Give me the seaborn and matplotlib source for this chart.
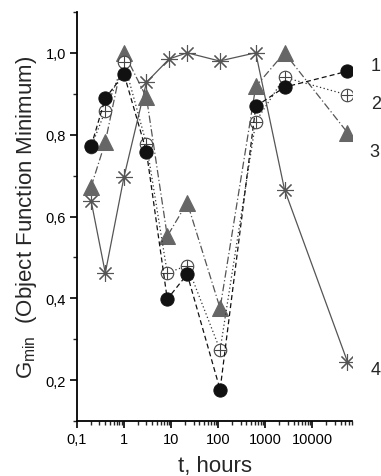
import matplotlib
matplotlib.use("Agg")
import matplotlib.pyplot as plt
import matplotlib.ticker as mticker
import seaborn as sns
import numpy as np
import pandas as pd

# data
t_hours = [0.2, 0.4, 1, 3, 8.3, 22, 110, 630, 2570, 56000]
s1 = [0.772, 0.889, 0.948, 0.758, 0.398, 0.459, 0.177, 0.869, 0.916, 0.955]
s2 = [0.770, 0.858, 0.977, 0.777, 0.462, 0.480, 0.274, 0.832, 0.940, 0.897]
s3 = [0.673, 0.782, 1.000, 0.891, 0.552, 0.634, 0.376, 0.918, 1.000, 0.805]
t4 = [0.2, 0.4, 1, 3, 9.1, 22, 107, 630, 2570, 56000]
s4 = [0.638, 0.462, 0.697, 0.928, 0.985, 1.000, 0.980, 1.000, 0.666, 0.245]
series_labels = ["1", "2", "3", "4"]
x_ticks = [0.1, 1, 10, 100, 1000, 10000]
x_ticklabels = ["0,1", "1", "10", "100", "1000", "10000"]
y_ticks = [0.2, 0.4, 0.6, 0.8, 1.0]
y_ticklabels = ["0,2", "0,4", "0,6", "0,8", "1,0"]

sns.set_theme(style="ticks")
plt.rcParams["font.family"] = ["Liberation Sans", "DejaVu Sans"]
plt.rcParams["mathtext.default"] = "regular"

fig = plt.figure(figsize=(3.81, 4.77), dpi=100)
ax = fig.add_axes([0.202, 0.115, 0.722, 0.858])

df1 = pd.DataFrame({"t": t_hours, "v": s1})
df2 = pd.DataFrame({"t": t_hours, "v": s2})
df3 = pd.DataFrame({"t": t_hours, "v": s3})
df4 = pd.DataFrame({"t": t4, "v": s4})

sns.lineplot(data=df4, x="t", y="v", ax=ax, color="#555555", lw=0.9,
             marker=(8, 2, 0), markersize=12, markeredgewidth=0.8,
             markeredgecolor="#555555", zorder=2)
sns.lineplot(data=df3, x="t", y="v", ax=ax, color="#555555", lw=0.9,
             linestyle=(0, (6, 2, 1, 2)), marker="^", markersize=12,
             markerfacecolor="#666666", markeredgecolor="#666666", zorder=3)
sns.lineplot(data=df2, x="t", y="v", ax=ax, color="#333333", lw=0.9,
             linestyle=(0, (1, 2)), marker="o", markersize=9,
             markerfacecolor="white", markeredgecolor="#444444",
             markeredgewidth=0.8, zorder=4)
sns.scatterplot(data=df2, x="t", y="v", ax=ax, marker="+", s=80,
                color="#444444", linewidth=0.8, zorder=5)
sns.lineplot(data=df1, x="t", y="v", ax=ax, color="#111111", lw=0.9,
             linestyle=(0, (4, 2.5)), marker="o", markersize=9.5,
             markerfacecolor="#111111", markeredgecolor="#111111", zorder=6)

ax.set_xscale("log")
ax.set_xlim(0.1, 70000)
ax.set_ylim(0.1, 1.1)
ax.set_xticks(x_ticks)
ax.set_xticklabels(x_ticklabels)
ax.xaxis.set_minor_locator(mticker.LogLocator(base=10, subs=np.arange(2, 10)))
ax.xaxis.set_minor_formatter(mticker.NullFormatter())
ax.set_yticks(y_ticks)
ax.set_yticklabels(y_ticklabels)
ax.yaxis.set_minor_locator(mticker.MultipleLocator(0.1))

for s in ["top", "right"]:
    ax.spines[s].set_visible(False)
for s in ["left", "bottom"]:
    ax.spines[s].set_linewidth(1.3)
    ax.spines[s].set_color("black")
ax.tick_params(axis="both", which="major", direction="out", length=5, width=1.2,
               labelsize=10.5, colors="black", pad=3)
ax.tick_params(axis="both", which="minor", direction="out", length=3, width=1.0)

ax.set_xlabel("t, hours", fontsize=16, labelpad=6)
ax.set_ylabel(r"G$_{min}$  (Object Function Minimum)", fontsize=16, labelpad=5)

label_y = [s1[-1], s2[-1], s3[-1], s4[-1]]
label_dy = [0.015, -0.02, -0.045, -0.02]
label_dx = [19, 19, 17, 19]
for lab, yv, dy, dx in zip(series_labels, label_y, label_dy, label_dx):
    ax.annotate(lab, xy=(1.0, yv + dy), xycoords=("axes fraction", "data"),
                xytext=(dx, 0), textcoords="offset pixels",
                fontsize=13, va="center", ha="left", annotation_clip=False)

fig.savefig("out.png", dpi=100)
